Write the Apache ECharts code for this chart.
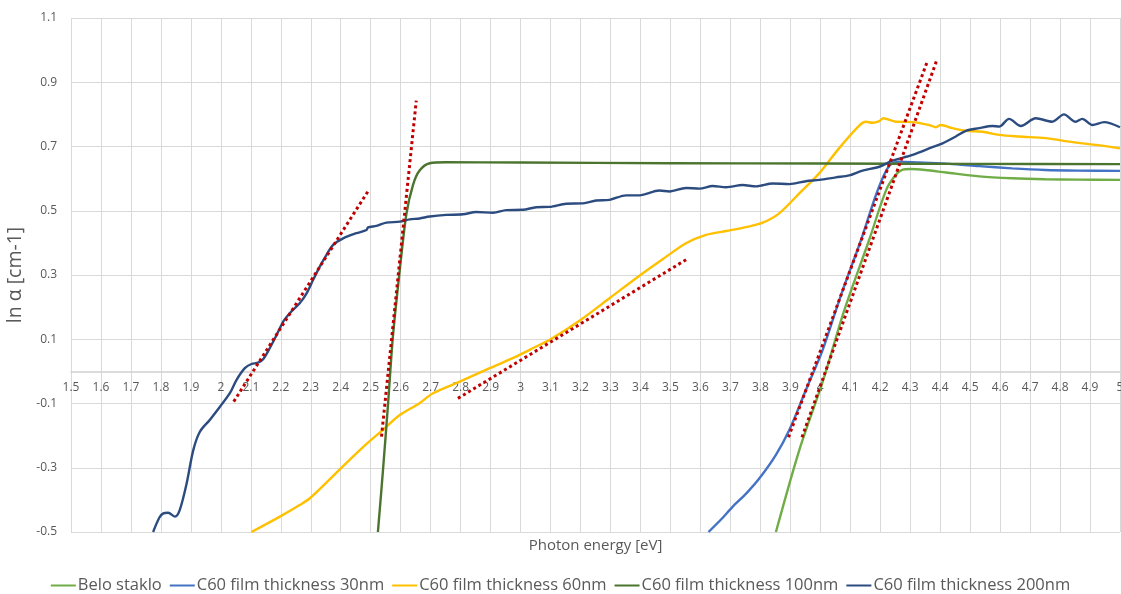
<!DOCTYPE html>
<html>
<head>
<meta charset="utf-8">
<title>ln α vs photon energy</title>
<script src="https://cdn.jsdelivr.net/npm/echarts@6/dist/echarts.min.js"></script>
<style>
  html, body { margin: 0; padding: 0; background: #ffffff; }
  #chart { width: 1121px; height: 594px; }
</style>
</head>
<body>
<div id="chart"></div>
<script>
// Absorption edge data: [photon energy (eV), ln α]
const beloStaklo = [
  [3.852,-0.5],[3.93,-0.245],[4.008,-0.032],[4.08,0.19],[4.163,0.409],[4.22,0.565],
  [4.252,0.612],[4.275,0.628],[4.3,0.63],[4.35,0.627],[4.42,0.619],[4.53,0.607],
  [4.64,0.601],[4.75,0.598],[4.86,0.597],[5.0,0.596]
];
const film30 = [
  [3.627,-0.5],[3.668,-0.462],[3.708,-0.421],[3.755,-0.378],[3.797,-0.333],[3.852,-0.26],
  [3.897,-0.182],[3.952,-0.058],[4.008,0.067],[4.07,0.24],[4.136,0.409],[4.19,0.56],
  [4.23,0.64],[4.263,0.653],[4.33,0.65],[4.43,0.646],[4.53,0.639],[4.64,0.632],
  [4.75,0.627],[4.86,0.625],[5.0,0.624]
];
const film60 = [
  [2.102,-0.5],[2.197,-0.452],[2.263,-0.416],[2.297,-0.395],[2.397,-0.305],[2.486,-0.226],
  [2.541,-0.182],[2.597,-0.136],[2.663,-0.099],[2.708,-0.068],[2.797,-0.032],[2.897,0.01],
  [2.974,0.041],[3.03,0.067],[3.1,0.1],[3.2,0.16],[3.3,0.23],[3.4,0.3],[3.474,0.349],
  [3.552,0.399],[3.619,0.425],[3.686,0.437],[3.752,0.449],[3.808,0.463],[3.863,0.492],
  [3.93,0.554],[3.997,0.617],[4.063,0.695],[4.13,0.765],[4.152,0.777],[4.174,0.774],
  [4.197,0.779],[4.21,0.788],[4.252,0.777],[4.308,0.776],[4.363,0.767],[4.386,0.76],
  [4.402,0.767],[4.441,0.757],[4.486,0.749],[4.541,0.746],[4.597,0.736],[4.663,0.731],
  [4.752,0.726],[4.83,0.715],[4.919,0.705],[5.0,0.694]
];
const film100 = [
  [2.524,-0.5],[2.541,-0.307],[2.558,-0.099],[2.574,0.108],[2.597,0.316],[2.619,0.49],
  [2.641,0.58],[2.663,0.625],[2.697,0.648],[2.75,0.651],[3.0,0.65],[3.5,0.648],
  [4.0,0.647],[4.5,0.646],[5.0,0.645]
];
const film200 = [
  [1.774,-0.5],[1.795,-0.455],[1.808,-0.442],[1.824,-0.44],[1.847,-0.452],[1.863,-0.431],
  [1.886,-0.348],[1.908,-0.245],[1.93,-0.188],[1.963,-0.151],[1.997,-0.11],[2.03,-0.068],
  [2.052,-0.027],[2.08,0.01],[2.102,0.023],[2.124,0.027],[2.141,0.038],[2.163,0.072],
  [2.186,0.113],[2.208,0.155],[2.23,0.181],[2.263,0.212],[2.286,0.243],[2.308,0.285],
  [2.33,0.326],[2.352,0.362],[2.374,0.393],[2.408,0.414],[2.452,0.43],[2.486,0.44],
  [2.491,0.448],[2.519,0.453],[2.552,0.463],[2.597,0.466],[2.63,0.473],[2.663,0.476],
  [2.697,0.482],[2.752,0.487],[2.808,0.489],[2.852,0.496],[2.908,0.494],[2.952,0.502],
  [3.008,0.503],[3.052,0.511],[3.097,0.512],[3.152,0.522],[3.208,0.523],[3.252,0.532],
  [3.297,0.534],[3.352,0.548],[3.397,0.548],[3.463,0.563],[3.497,0.56],[3.552,0.571],
  [3.597,0.569],[3.641,0.577],[3.686,0.573],[3.741,0.58],[3.786,0.576],[3.841,0.585],
  [3.897,0.583],[3.952,0.592],[3.997,0.596],[4.052,0.604],[4.097,0.61],[4.141,0.625],
  [4.197,0.637],[4.241,0.656],[4.308,0.674],[4.374,0.698],[4.408,0.71],[4.452,0.731],
  [4.486,0.749],[4.53,0.757],[4.574,0.764],[4.597,0.762],[4.63,0.786],[4.669,0.764],
  [4.719,0.788],[4.774,0.777],[4.813,0.8],[4.852,0.777],[4.874,0.786],[4.908,0.767],
  [4.947,0.776],[5.0,0.76]
];

// Linear fits drawn along the absorption edges (dotted red)
const fit200 = [[2.043,-0.094],[2.494,0.565]];
const fit100 = [[2.536,-0.203],[2.652,0.843]];
const fit60 = [[2.791,-0.084],[3.56,0.352]];
const fit30 = [[3.894,-0.205],[4.358,0.967]];
const fitGlass = [[3.939,-0.205],[4.388,0.967]];

// Axis ranges and tick steps
const xRange = [1.5, 5];
const xStep = 0.1;
const yRange = [-0.5, 1.1];
const yStep = 0.2;

const seriesNames = [
  'Belo staklo',
  'C60 film thickness 30nm',
  'C60 film thickness 60nm',
  'C60 film thickness 100nm',
  'C60 film thickness 200nm'
];
const seriesColors = ['#70AD47', '#4472C4', '#FFC000', '#4B752E', '#2C4C80'];
const seriesData = [beloStaklo, film30, film60, film100, film200];
const fits = [fit200, fit100, fit60, fit30, fitGlass];

const FONT = '"Open Sans", "Noto Sans", sans-serif';
const TEXT = '#595959';
const GRID = '#D9D9D9';

// Plot area in pixels; the tick-label strip is a second grid whose bottom edge is y = 0
const PLOT = { left: 71, right: 1, top: 18, bottom: 62 };
const plotH = 594 - PLOT.top - PLOT.bottom;
const zeroFromTop = PLOT.top + plotH * (yRange[1] - 0) / (yRange[1] - yRange[0]);

const series = seriesData.map((d, i) => ({
  name: seriesNames[i],
  type: 'line',
  data: d,
  showSymbol: false,
  symbol: 'none',
  smooth: 0.3,
  lineStyle: { color: seriesColors[i], width: 2.4 },
  itemStyle: { color: seriesColors[i] },
  z: 2
}));

fits.forEach((d, i) => {
  series.push({
    name: 'fit' + i,
    type: 'line',
    data: d,
    symbol: 'none',
    lineStyle: { color: '#C00000', width: 3, type: [3, 3] },
    z: 3
  });
});

const chart = echarts.init(document.getElementById('chart'), null, { renderer: 'canvas' });
chart.setOption({
  animation: false,
  backgroundColor: '#ffffff',
  textStyle: { fontFamily: FONT },
  grid: [
    { left: PLOT.left, right: PLOT.right, top: PLOT.top, bottom: PLOT.bottom,
      containLabel: false, outerBoundsMode: 'none' },
    { left: PLOT.left, right: PLOT.right, top: PLOT.top, bottom: 594 - zeroFromTop,
      containLabel: false, outerBoundsMode: 'none' }
  ],
  legend: {
    data: seriesNames.map(n => ({ name: n, icon: 'rect' })),
    selectedMode: false,
    left: 'center',
    top: 572,
    itemWidth: 25,
    itemHeight: 2,
    itemGap: 8,
    textStyle: { color: TEXT, fontSize: 16.5, fontFamily: FONT, padding: [0, 0, 0, -3] }
  },
  xAxis: [
    {
      gridIndex: 0,
      type: 'value',
      min: xRange[0],
      max: xRange[1],
      interval: xStep,
      name: 'Photon energy [eV]',
      nameLocation: 'middle',
      nameGap: 6,
      nameTextStyle: { color: TEXT, fontSize: 15, fontFamily: FONT, verticalAlign: 'top' },
      axisLine: { onZero: true, lineStyle: { color: '#D0D0D0', width: 1.5 } },
      axisTick: { show: false },
      axisLabel: { show: false },
      splitLine: { show: true, lineStyle: { color: GRID, width: 1 } }
    },
    {
      gridIndex: 1,
      type: 'value',
      min: xRange[0],
      max: xRange[1],
      interval: xStep,
      axisLine: { show: false },
      axisTick: { show: false },
      axisLabel: { color: TEXT, fontSize: 12, margin: 10, fontFamily: FONT },
      splitLine: { show: false }
    }
  ],
  yAxis: [
    {
      gridIndex: 0,
      type: 'value',
      min: yRange[0],
      max: yRange[1],
      interval: yStep,
      name: 'ln α [cm-1]',
      nameLocation: 'middle',
      nameGap: 30,
      nameRotate: 90,
      nameTextStyle: { color: TEXT, fontSize: 19.5, fontFamily: FONT },
      axisLine: { show: false },
      axisTick: { show: false },
      axisLabel: { color: TEXT, fontSize: 12, margin: 14, fontFamily: FONT },
      splitLine: { show: true, lineStyle: { color: GRID, width: 1 } }
    },
    {
      gridIndex: 1,
      type: 'value',
      min: 0,
      max: yRange[1],
      show: false
    }
  ],
  series: series
});
</script>
</body>
</html>
